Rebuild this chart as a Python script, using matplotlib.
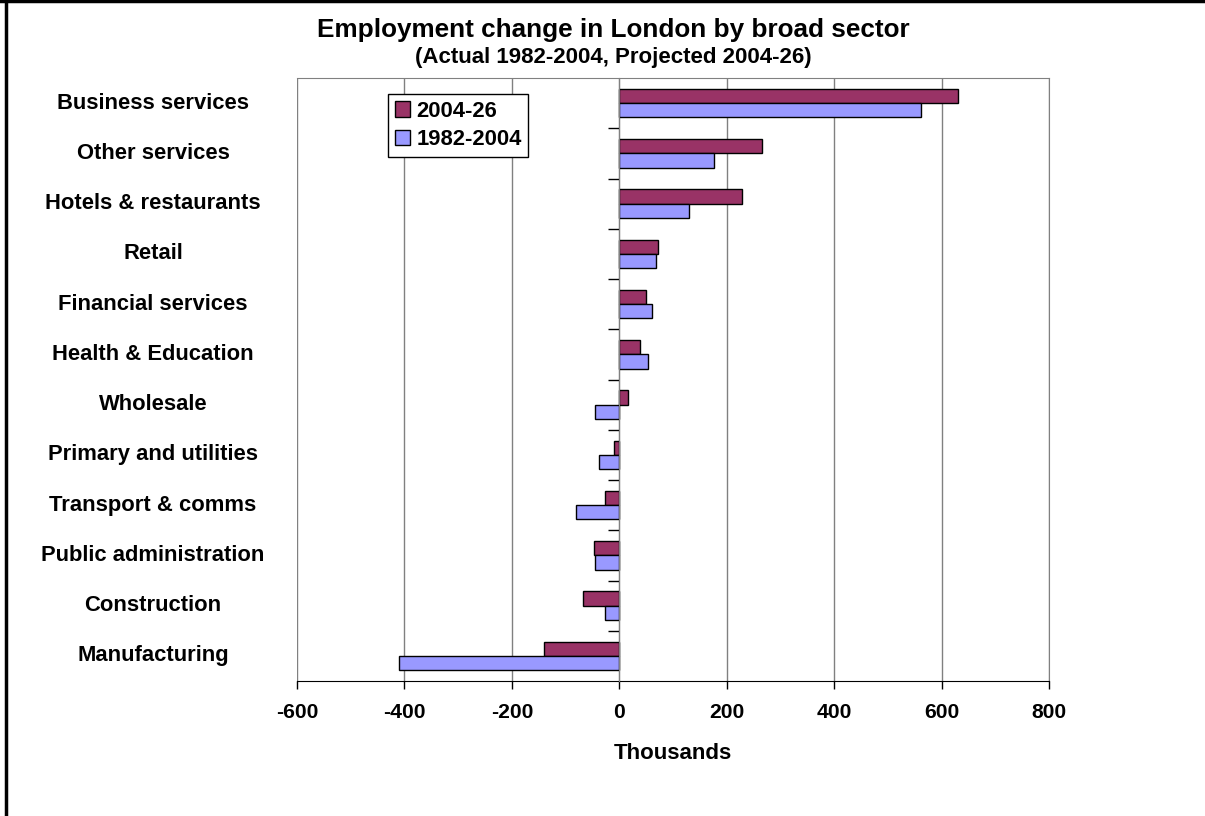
import numpy as np
import matplotlib.pyplot as plt
from matplotlib.patches import Patch
from matplotlib.lines import Line2D
import matplotlib.transforms as mtransforms

plt.rcParams['font.family'] = ['Liberation Sans', 'DejaVu Sans']
plt.rcParams['font.weight'] = 'bold'

sectors = ['Business services', 'Other services', 'Hotels & restaurants', 'Retail',
           'Financial services', 'Health & Education', 'Wholesale',
           'Primary and utilities', 'Transport & comms', 'Public administration',
           'Construction', 'Manufacturing']
projected = [631, 265, 229, 73, 49, 38, 17, -9, -27, -48, -68, -141]   # 2004-26
actual = [562, 177, 129, 69, 61, 54, -46, -38, -81, -45, -26, -410]    # 1982-2004
xticks = [-600, -400, -200, 0, 200, 400, 600, 800]

col_proj = '#993366'
col_act = '#9999FF'

fig = plt.figure(figsize=(12.05, 8.16), dpi=100)
ax = fig.add_axes([297 / 1205, 1 - 681 / 816, 752 / 1205, 603 / 816])

y = np.arange(len(sectors))
h = 0.286
ax.barh(y - h / 2, projected, height=h, color=col_proj, edgecolor='black', linewidth=1, zorder=3)
ax.barh(y + h / 2, actual, height=h, color=col_act, edgecolor='black', linewidth=1, zorder=3)

ax.set_xlim(-600, 800)
ax.set_ylim(len(sectors) - 0.5, -0.5)
ax.set_xticks(xticks)
ax.set_xticklabels([str(v) for v in xticks], fontsize=15.2, fontweight='bold')
ax.tick_params(axis='x', length=6, width=1, pad=10)
ax.grid(axis='x', color='#808080', linewidth=1, zorder=0)

# category axis sits on zero, with ticks between the sectors
ax.spines['left'].set_position(('data', 0))
ax.spines['left'].set_color('#808080')
ax.spines['left'].set_zorder(4)
ax.set_yticks(np.arange(len(sectors) - 1) + 0.5)
ax.set_yticklabels([])
ax.tick_params(axis='y', length=8, width=1, color='black')
for s in ['top', 'right']:
    ax.spines[s].set_color('#808080')
ax.spines['bottom'].set_color('black')

trans = mtransforms.blended_transform_factory(fig.transFigure, ax.transData)
for i, name in enumerate(sectors):
    fig.text(153 / 1205, i, name, transform=trans, ha='center', va='center',
             fontsize=15.8, fontweight='bold')

ax.set_xlabel('Thousands', fontsize=16, fontweight='bold', labelpad=15)

fig.text(613 / 1205, 1 - 30 / 816, 'Employment change in London by broad sector',
         ha='center', va='center', fontsize=18.8, fontweight='bold')
fig.text(613 / 1205, 1 - 58 / 816, '(Actual 1982-2004, Projected 2004-26)',
         ha='center', va='center', fontsize=16, fontweight='bold')

handles = [Patch(facecolor=col_proj, edgecolor='black'),
           Patch(facecolor=col_act, edgecolor='black')]
leg = ax.legend(handles, ['2004-26', '1982-2004'], loc='upper left',
                bbox_to_anchor=(388 / 1205, 1 - 94 / 816), bbox_transform=fig.transFigure,
                fancybox=False, framealpha=1, edgecolor='black',
                prop={'size': 15.8, 'weight': 'bold'},
                handlelength=0.7, handleheight=0.7, handletextpad=0.3,
                borderpad=0.3, labelspacing=0.35, borderaxespad=0)
leg.get_frame().set_linewidth(1)
leg.set_zorder(5)

# outer frame on the top and left edges
fig.add_artist(Line2D([6 / 1205, 6 / 1205], [0, 1], transform=fig.transFigure,
                      color='black', linewidth=2.5))
fig.add_artist(Line2D([0, 1], [1 - 1 / 816, 1 - 1 / 816], transform=fig.transFigure,
                      color='black', linewidth=2.5))

fig.savefig('out.png', dpi=100)
